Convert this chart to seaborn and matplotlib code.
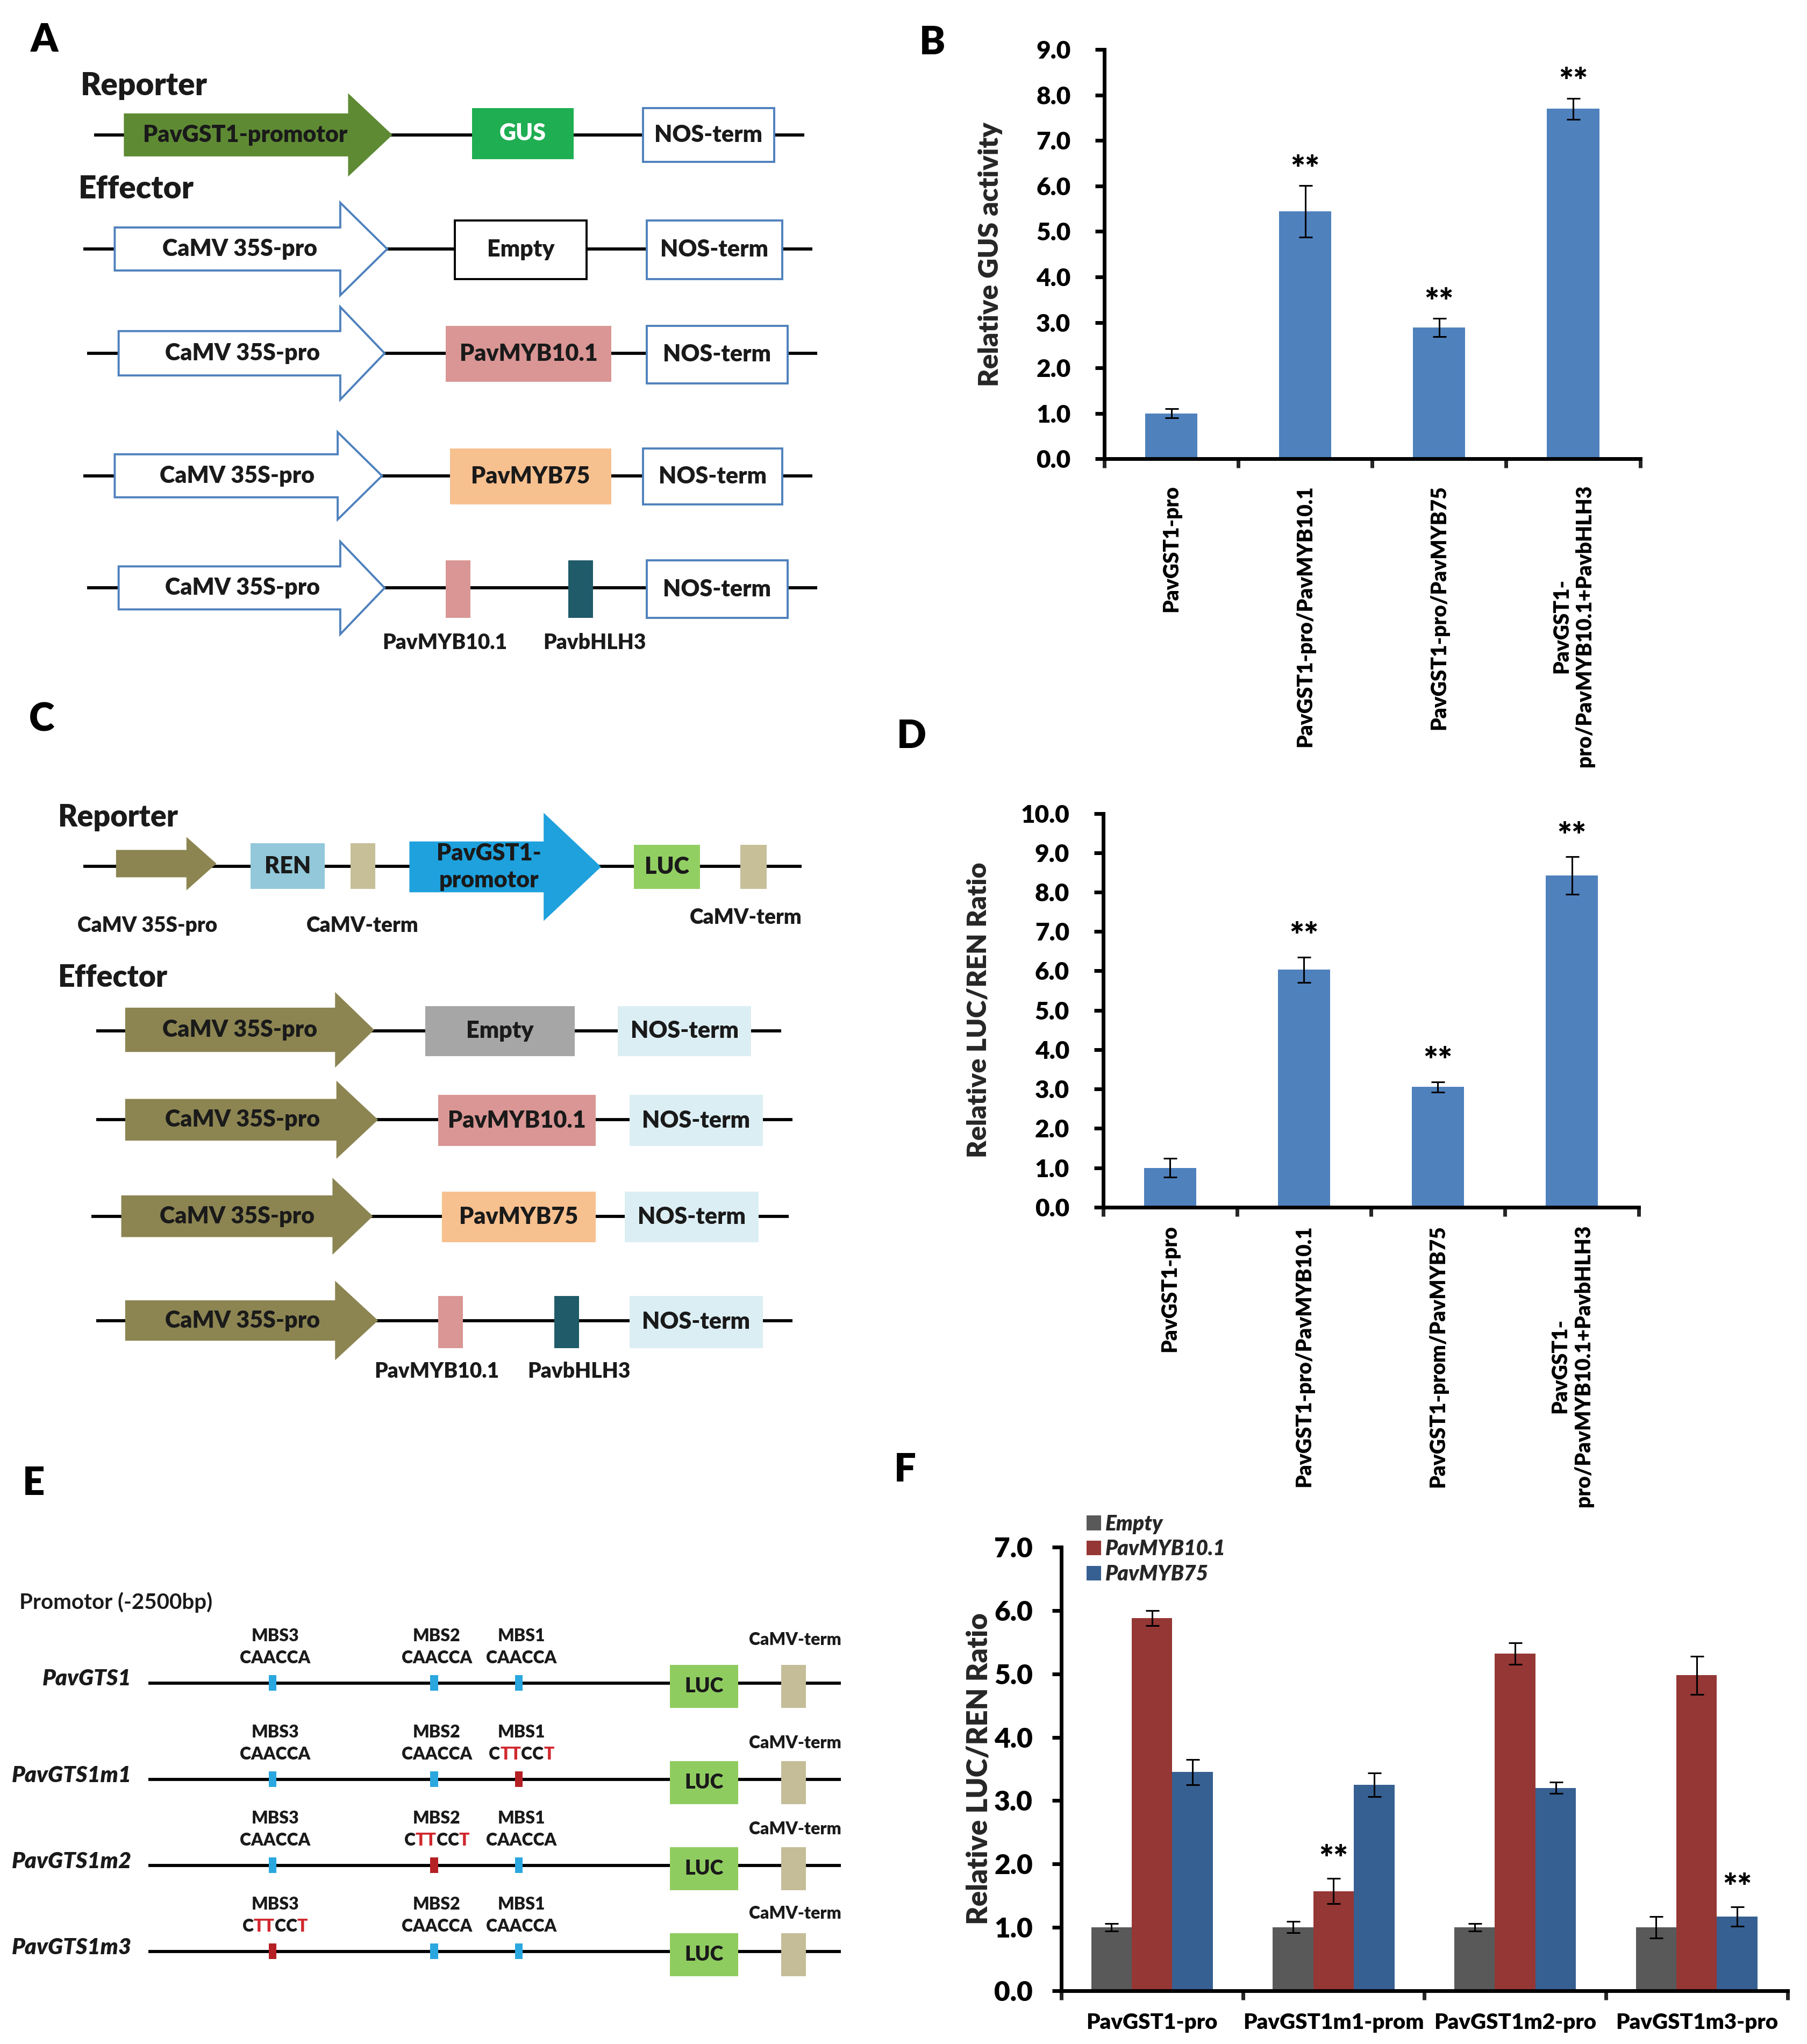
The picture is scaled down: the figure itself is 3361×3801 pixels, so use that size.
import matplotlib
matplotlib.use("Agg")
import matplotlib.pyplot as plt
from matplotlib.patches import Polygon, Rectangle
import numpy as np
import pandas as pd
import seaborn as sns

# ---- data ----
gus_labels = ["PavGST1-pro", "PavGST1-pro/PavMYB10.1", "PavGST1-pro/PavMYB75",
              "PavGST1-\npro/PavMYB10.1+PavbHLH3"]
gus_mean = [1.00, 5.44, 2.89, 7.70]
gus_err = [0.10, 0.57, 0.20, 0.23]
gus_sig = ["", "**", "**", "**"]

luc_labels = ["PavGST1-pro", "PavGST1-pro/PavMYB10.1", "PavGST1-prom/PavMYB75",
              "PavGST1-\npro/PavMYB10.1+PavbHLH3"]
luc_mean = [1.00, 6.03, 3.05, 8.42]
luc_err = [0.24, 0.32, 0.13, 0.48]
luc_sig = ["", "**", "**", "**"]

promoters = ["PavGST1-pro", "PavGST1m1-prom", "PavGST1m2-pro", "PavGST1m3-pro"]
effectors = ["Empty", "PavMYB10.1", "PavMYB75"]
empty_mean = [1.00, 1.00, 1.00, 1.00]
empty_err = [0.06, 0.09, 0.06, 0.17]
myb10_mean = [5.88, 1.57, 5.32, 4.98]
myb10_err = [0.12, 0.20, 0.17, 0.30]
myb75_mean = [3.45, 3.25, 3.20, 1.17]
myb75_err = [0.20, 0.19, 0.09, 0.15]
f_sig = [["", "", "", ""], ["", "**", "", ""], ["", "", "", "**"]]
f_colors = ["#595959", "#953735", "#376092"]

sns.set_theme(style="ticks")
plt.rcParams["font.family"] = ["Lato", "DejaVu Sans"]
plt.rcParams["font.weight"] = "heavy"
plt.rcParams["axes.labelweight"] = "heavy"

W, H = 1386, 1568          # layout units (reference shrunk size)
U = 3361 / W * 0.72        # points per layout unit
TXT = "#1a1a1a"
BLUE_EDGE = "#4f81bd"

fig = plt.figure(figsize=(33.61, 38.01), dpi=100)
bg = fig.add_axes([0, 0, 1, 1])
bg.set_xlim(0, W)
bg.set_ylim(H, 0)
bg.axis("off")
renderer = fig.canvas.get_renderer()


def hline(x0, x1, y, lw=2.4):
    bg.plot([x0, x1], [y, y], color="black", lw=lw * U, solid_capstyle="butt", zorder=1)


def box(x0, x1, y0, y1, fc, ec=None, text=None, tc=TXT, size=31, lw=1.6):
    bg.add_patch(Rectangle((x0, y0), x1 - x0, y1 - y0, facecolor=fc,
                           edgecolor=ec if ec else fc, lw=lw * U if ec else 0, zorder=2))
    if text:
        bg.text((x0 + x1) / 2, (y0 + y1) / 2, text, ha="center", va="center",
                color=tc, fontsize=size, zorder=3)


def arrow(x0, xh, xt, y, bh, hh, fc, ec=None, text=None, tx=None, tc=TXT, size=31, lw=1.6):
    pts = [(x0, y - bh), (xh, y - bh), (xh, y - hh), (xt, y),
           (xh, y + hh), (xh, y + bh), (x0, y + bh)]
    bg.add_patch(Polygon(pts, closed=True, facecolor=fc, edgecolor=ec if ec else fc,
                         lw=lw * U if ec else 0, joinstyle="miter", zorder=2))
    if text:
        bg.text(tx, y, text, ha="center", va="center", color=tc, fontsize=size,
                linespacing=1.3, zorder=3)


def label(x, y, s, size=28, ha="center", **kw):
    bg.text(x, y, s, ha=ha, va="center", fontsize=size, color=TXT, zorder=3, **kw)


def mixed_text(x, y, parts, size=23):
    full = "".join(p for p, _ in parts)
    probe = bg.text(x, y, full, fontsize=size, ha="center", va="center")
    bb = probe.get_window_extent(renderer=renderer)
    probe.remove()
    x_left = bg.transData.inverted().transform((bb.x0, bb.y0))[0]
    prev = bg.text(x_left, y, parts[0][0], color=parts[0][1], fontsize=size,
                   ha="left", va="center", zorder=3)
    for s, c in parts[1:]:
        prev = bg.annotate(s, xy=(1, 0.5), xycoords=prev, ha="left", va="center",
                           color=c, fontsize=size, zorder=3)


# ---- panel letters ----
for letter, (lx, ly) in {"A": (34, 31), "B": (715, 33), "C": (32, 552),
                         "D": (699, 565), "E": (26, 1138), "F": (694, 1128)}.items():
    bg.text(lx, ly, letter, ha="center", va="center", fontsize=52, color="black")

# ---- panel A ----
label(62, 66, "Reporter", size=42, ha="left")
hline(72, 617, 103.5)
arrow(95, 267, 301, 103.5, 16.5, 32, "#5e8a34", text="PavGST1-promotor", tx=188)
box(362, 440, 83, 122, "#1fae52", text="GUS", tc="white")
box(493, 594, 83, 124, "white", ec=BLUE_EDGE, text="NOS-term")
label(60, 145, "Effector", size=42, ha="left")

hline(64, 623, 191)
arrow(88, 261, 297, 191, 16.5, 35.5, "white", ec=BLUE_EDGE, text="CaMV 35S-pro", tx=184)
box(349, 450, 169, 214, "white", ec="black", text="Empty")
box(496, 600, 169, 214, "white", ec=BLUE_EDGE, text="NOS-term")

hline(67, 627, 271)
arrow(91, 261, 295, 271, 17, 35.5, "white", ec=BLUE_EDGE, text="CaMV 35S-pro", tx=186)
box(342, 469, 250, 293, "#d99694", text="PavMYB10.1")
box(496, 604, 250, 294, "white", ec=BLUE_EDGE, text="NOS-term")

hline(64, 623, 365)
arrow(88, 259, 293, 365, 16.5, 33.5, "white", ec=BLUE_EDGE, text="CaMV 35S-pro", tx=182)
box(345, 469, 344, 387, "#f7c08f", text="PavMYB75")
box(493, 600, 344, 387, "white", ec=BLUE_EDGE, text="NOS-term")

hline(67, 627, 451)
arrow(91, 261, 295, 451, 16.5, 35.5, "white", ec=BLUE_EDGE, text="CaMV 35S-pro", tx=186)
box(342, 361, 430, 474, "#d99694")
box(436, 455, 430, 474, "#1f5b69")
box(496, 604, 430, 474, "white", ec=BLUE_EDGE, text="NOS-term")
label(341, 493, "PavMYB10.1")
label(456, 493, "PavbHLH3")

# ---- panel C ----
label(44, 627, "Reporter", size=40, ha="left")
hline(64, 615, 664.5)
arrow(89, 143, 166, 662.5, 10.5, 20.5, "#8c8552")
box(192, 249, 647, 682, "#92c8da", text="REN")
box(269, 288, 647, 682, "#c6bf98")
arrow(314, 417, 461, 665, 19.5, 41.5, "#1ea1dd", text="PavGST1-\npromotor", tx=375)
box(486, 537, 648, 682, "#92cf62", text="LUC")
box(568, 588, 648, 682, "#c6bf98")
label(113, 710, "CaMV 35S-pro")
label(278, 710, "CaMV-term")
label(572, 704, "CaMV-term")
label(44, 750, "Effector", size=40, ha="left")

OLIVE = "#8c8552"
NOS_C = "#dbeef4"
hline(74, 599, 791)
arrow(96, 257, 287, 790, 17, 29, OLIVE, text="CaMV 35S-pro", tx=184)
box(326, 441, 772, 810, "#a6a6a6", text="Empty")
box(474, 576, 772, 810, NOS_C, text="NOS-term")

hline(74, 608, 859)
arrow(96, 258, 290, 859, 16, 30, OLIVE, text="CaMV 35S-pro", tx=186)
box(336, 457, 840, 879, "#d99694", text="PavMYB10.1")
box(483, 585, 840, 879, NOS_C, text="NOS-term")

hline(70, 605, 933)
arrow(93, 255, 286, 933, 16, 29.5, OLIVE, text="CaMV 35S-pro", tx=182)
box(339, 457, 914, 953, "#f7c08f", text="PavMYB75")
box(479, 582, 914, 953, NOS_C, text="NOS-term")

hline(74, 608, 1013)
arrow(96, 257, 290, 1013, 15.5, 30.5, OLIVE, text="CaMV 35S-pro", tx=186)
box(336, 355, 994, 1034, "#d99694")
box(425, 444, 994, 1034, "#1f5b69")
box(483, 585, 994, 1034, NOS_C, text="NOS-term")
label(335, 1052, "PavMYB10.1")
label(444, 1052, "PavbHLH3")

# ---- panel E ----
label(15, 1229, "Promotor (-2500bp)", size=29, ha="left", fontweight="bold")
e_rows = ["PavGTS1", "PavGTS1m1", "PavGTS1m2", "PavGTS1m3"]
e_y = [1291, 1365, 1431, 1497]
e_term_y = [1258, 1337, 1403, 1468]
site_names = ["MBS3", "MBS2", "MBS1"]
site_x = [209, 333, 398]
mutated = [None, 2, 1, 0]
RED_T = "#d0282e"
for name, y, ty, mut in zip(e_rows, e_y, e_term_y, mutated):
    hline(114, 645, y)
    label(101, y - 3, name, size=30, ha="right", fontstyle="italic")
    for i, (sn, sx) in enumerate(zip(site_names, site_x)):
        is_mut = (mut == i)
        box(sx - 3, sx + 3, y - 6, y + 6, "#b52025" if is_mut else "#2aa7df")
        label(sx + 2, y - 36, sn, size=23)
        if is_mut:
            mixed_text(sx + 2, y - 19, [("C", TXT), ("TT", RED_T), ("CC", TXT), ("T", RED_T)])
        else:
            label(sx + 2, y - 19, "CAACCA", size=23)
    box(514, 566, y - 14, y + 19, "#8fcc60", text="LUC", size=27)
    box(599, 618, y - 14, y + 19, "#c5bd98")
    label(610, ty, "CaMV-term", size=23)


# ---- bar chart helpers ----
def axes_at(l, t, r, b):
    return fig.add_axes([l / W, 1 - b / H, (r - l) / W, (b - t) / H], facecolor="none")


def style_axis(ax, ymax, n, ysize, xsize, xpad, rot, ypad=33):
    ax.set_xlim(-0.5, n - 0.5)
    ax.set_ylim(0, ymax)
    sns.despine(ax=ax)
    for s in ["left", "bottom"]:
        ax.spines[s].set_linewidth(5)
        ax.spines[s].set_color("black")
        ax.spines[s].set_capstyle("projecting")
    ticks = np.arange(0, ymax + 0.01, 1.0)
    ax.set_yticks(ticks)
    ax.set_yticklabels([f"{v:.1f}" for v in ticks])
    ax.tick_params(axis="y", left=True, direction="out", length=12, width=5,
                   labelsize=ysize, pad=ypad, colors="black")
    ax.set_xticks(np.arange(-0.5, n, 1.0), minor=True)
    ax.tick_params(axis="x", which="minor", bottom=True, direction="out", length=12, width=5)
    ax.tick_params(axis="x", which="major", length=0, labelsize=xsize, pad=xpad,
                   labelrotation=rot, colors="black")
    for lab in ax.get_xticklabels():
        lab.set_multialignment("center")
    ax.set_xlabel("")


def add_errors(ax, container, means, errs, sig, star_size=46, star_off=20):
    xs = [p.get_x() + p.get_width() / 2 for p in container]
    ax.errorbar(xs, means, yerr=errs, fmt="none", ecolor="black", elinewidth=2.2,
                capsize=9, capthick=2.2, zorder=5)
    for x, m, e, s in zip(xs, means, errs, sig):
        if s:
            ax.annotate(s, xy=(x, m + e), xytext=(0, star_off), textcoords="offset points",
                        ha="center", va="center", fontsize=star_size, color="black")


# ---- panel B ----
axB = axes_at(847, 38, 1258, 352)
df_b = pd.DataFrame({"construct": gus_labels, "value": gus_mean})
sns.barplot(data=df_b, x="construct", y="value", color="#4f81bd", saturation=1,
            width=0.39, errorbar=None, linewidth=0, ax=axB)
style_axis(axB, 9.0, 4, 33, 28, 35, 90)
add_errors(axB, axB.containers[0], gus_mean, gus_err, gus_sig)
axB.set_ylabel("Relative GUS activity", fontsize=37)
axB.yaxis.set_label_coords(-0.19, 0.5)

# ---- panel D ----
axD = axes_at(846, 624, 1257, 926)
df_d = pd.DataFrame({"construct": luc_labels, "value": luc_mean})
sns.barplot(data=df_d, x="construct", y="value", color="#4f81bd", saturation=1,
            width=0.39, errorbar=None, linewidth=0, ax=axD)
style_axis(axD, 10.0, 4, 33, 28, 24, 90)
add_errors(axD, axD.containers[0], luc_mean, luc_err, luc_sig, star_off=26)
axD.set_ylabel("Relative LUC/REN Ratio", fontsize=36)
axD.yaxis.set_label_coords(-0.21, 0.5)

# ---- panel F ----
axF = axes_at(814, 1187, 1371, 1527)
df_f = pd.DataFrame({
    "promoter": promoters * 3,
    "effector": np.repeat(effectors, len(promoters)),
    "value": empty_mean + myb10_mean + myb75_mean,
})
sns.barplot(data=df_f, x="promoter", y="value", hue="effector", hue_order=effectors,
            palette=f_colors, saturation=1, width=0.67, errorbar=None, linewidth=0, ax=axF)
style_axis(axF, 7.0, 4, 37, 29, 30, 0, ypad=26)
for cont, m, e, s in zip(axF.containers, [empty_mean, myb10_mean, myb75_mean],
                         [empty_err, myb10_err, myb75_err], f_sig):
    add_errors(axF, cont, m, e, s, star_off=24)
axF.set_ylabel("Relative LUC/REN Ratio", fontsize=38)
axF.yaxis.set_label_coords(-0.095, 0.5)
leg = axF.legend(loc="upper left", bbox_to_anchor=(0.035, 1.075), frameon=False,
                 borderaxespad=0, borderpad=0, handlelength=0.7, handleheight=0.7,
                 handletextpad=0.2, labelspacing=0.25, fontsize=28)
for t in leg.get_texts():
    t.set_fontstyle("italic")
    t.set_fontweight("heavy")

fig.savefig("out.png", dpi=100, facecolor="white")
